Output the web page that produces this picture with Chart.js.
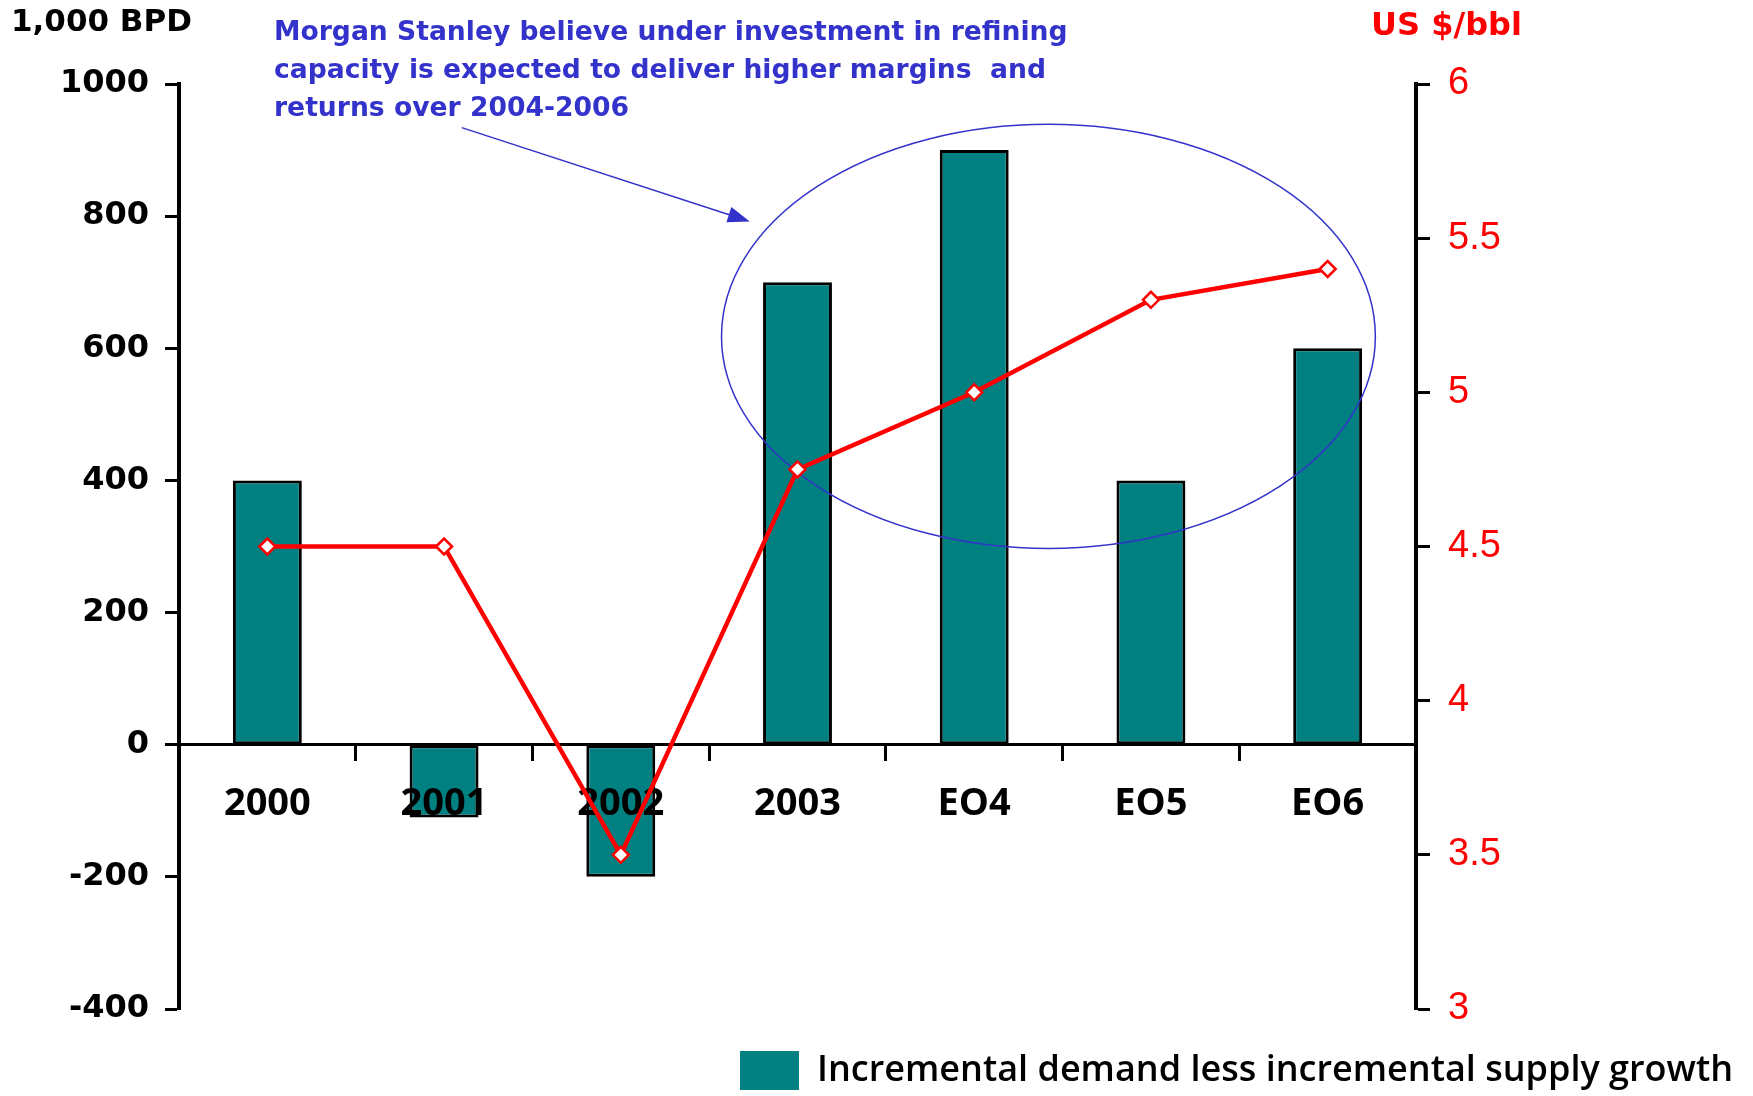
<!DOCTYPE html>
<html>
<head>
<meta charset="utf-8">
<script src="https://cdn.jsdelivr.net/npm/chart.js@4.4.1/dist/chart.umd.min.js"></script>
<style>
  html,body{margin:0;padding:0;background:#fff}
  #wrap{width:1753px;height:1096px}
</style>
</head>
<body>
<div id="wrap"><canvas id="c" width="1753" height="1096"></canvas></div>
<script>
// data
const categories = ['2000','2001','2002','2003','EO4','EO5','EO6'];
const balanceBpd = [400, -110, -200, 700, 900, 400, 600];
const marginUsd = [4.5, 4.5, 3.5, 4.75, 5.0, 5.3, 5.4];
const leftTicks = [-400, -200, 0, 200, 400, 600, 800, 1000];
const rightTicks = [3, 3.5, 4, 4.5, 5, 5.5, 6];
const barLabel = 'Incremental demand less incremental supply growth';
const lineLabel = 'Refining margin';
const leftTitle = '1,000 BPD';
const rightTitle = 'US $/bbl';
const noteLines = [
  'Morgan Stanley believe under investment in refining',
  'capacity is expected to deliver higher margins  and',
  'returns over 2004-2006'
];

const TEAL = '#008080', RED = '#ff0000', BLUE = '#3333cc';

// ellipse + arrow, given in scale units (x = category index, y = left axis)
const ring = {x0: 2.57, x1: 6.27, y0: 297, y1: 939};
const arrow = {x0: 1.10, y0: 934, x1: 2.73, y1: 792};

const overlay = {
  id: 'overlay',
  beforeDatasetDraw(chart, args){
    if(args.index === 1) return false; // line drawn last, above the x labels
  },
  afterDraw(chart){
    const ctx = chart.ctx, x = chart.scales.x, y = chart.scales.y;
    ctx.save();
    // circled area
    const l = x.getPixelForValue(ring.x0), r = x.getPixelForValue(ring.x1);
    const t = y.getPixelForValue(ring.y1), b = y.getPixelForValue(ring.y0);
    ctx.strokeStyle = BLUE; ctx.lineWidth = 1.5;
    ctx.beginPath();
    ctx.ellipse((l+r)/2, (t+b)/2, (r-l)/2, (b-t)/2, 0, 0, Math.PI*2);
    ctx.stroke();
    // arrow
    const ax0 = x.getPixelForValue(arrow.x0), ay0 = y.getPixelForValue(arrow.y0);
    const ax1 = x.getPixelForValue(arrow.x1), ay1 = y.getPixelForValue(arrow.y1);
    const ang = Math.atan2(ay1-ay0, ax1-ax0);
    ctx.beginPath(); ctx.moveTo(ax0, ay0);
    ctx.lineTo(ax1 - 16*Math.cos(ang), ay1 - 16*Math.sin(ang)); ctx.stroke();
    ctx.fillStyle = BLUE;
    ctx.beginPath();
    ctx.moveTo(ax1, ay1);
    ctx.lineTo(ax1 - 22*Math.cos(ang) + 8*Math.sin(ang), ay1 - 22*Math.sin(ang) - 8*Math.cos(ang));
    ctx.lineTo(ax1 - 22*Math.cos(ang) - 8*Math.sin(ang), ay1 - 22*Math.sin(ang) + 8*Math.cos(ang));
    ctx.closePath(); ctx.fill();
    // note text
    ctx.font = 'bold 26.6px "DejaVu Sans"';
    ctx.textBaseline = 'middle'; ctx.textAlign = 'left';
    noteLines.forEach((s,i)=> ctx.fillText(s, 274, 33 + i*38));
    // axis titles
    ctx.font = 'bold 31px "DejaVu Sans"';
    ctx.fillStyle = '#000';
    ctx.fillText(leftTitle, 11, 23);
    ctx.font = 'bold 32px "DejaVu Sans"';
    ctx.fillStyle = RED;
    ctx.fillText(rightTitle, 1371, 27);
    ctx.restore();
    // the line series on top of everything
    chart.getDatasetMeta(1).controller.draw();
  }
};

new Chart(document.getElementById('c'), {
  data: {
    labels: categories,
    datasets: [
      {type:'bar', label: barLabel, data: balanceBpd, yAxisID:'y',
       backgroundColor: TEAL, borderColor:'#000', borderWidth:3, borderSkipped:false,
       categoryPercentage:1, barPercentage:0.39},
      {type:'line', label: lineLabel, data: marginUsd, yAxisID:'y2',
       borderColor: RED, borderWidth:4.5, tension:0,
       pointStyle:'rectRot', pointRadius:8, pointBorderWidth:2.5,
       pointBackgroundColor:'#fff', pointBorderColor: RED}
    ]
  },
  options: {
    responsive:false,
    animation:false,
    layout:{padding:{top:84, left:0, right:0, bottom:-4}},
    plugins:{
      tooltip:{enabled:false},
      title:{display:false},
      legend:{
        position:'bottom', align:'end',
        title:{display:true, text:'', font:{size:10}, padding:{top:10, bottom:0}},
        labels:{
          boxWidth:59, boxHeight:39, padding:20, color:'#000',
          font:{family:'Open Sans', weight:'600', size:36},
          generateLabels: ()=>[{text: barLabel, fillStyle: TEAL, strokeStyle: TEAL, fontColor:'#000', lineWidth:0, datasetIndex:0}]
        }
      }
    },
    scales:{
      x:{
        type:'category', offset:true, position:{y:0},
        grid:{offset:true, drawOnChartArea:false, tickLength:15, tickWidth:3, tickColor:'#000', z:1},
        border:{display:true, color:'#000', width:3, z:1},
        ticks:{color:'#000', padding:22, z:1, font:{family:'Open Sans', weight:'bold', size:38}}
      },
      y:{
        position:'left', min:-400, max:1000,
        afterBuildTicks: s => { s.ticks = leftTicks.map(v=>({value:v})); },
        afterFit: s => { s.width = 179; },
        grid:{drawOnChartArea:false, tickLength:14, tickWidth:3, tickColor:'#000'},
        border:{display:true, color:'#000', width:4},
        ticks:{color:'#000', padding:16, callback: v => String(v),
               font:{family:'DejaVu Sans', weight:'bold', size:32}}
      },
      y2:{
        position:'right', min:3, max:6,
        afterBuildTicks: s => { s.ticks = rightTicks.map(v=>({value:v})); },
        afterFit: s => { s.width = 337; },
        grid:{drawOnChartArea:false, tickLength:14, tickWidth:3, tickColor:'#000'},
        border:{display:true, color:'#000', width:4},
        ticks:{color:RED, padding:18, callback: v => String(v),
               font:{family:'Liberation Sans', size:38}}
      }
    }
  },
  plugins:[overlay]
});
</script>
</body>
</html>
